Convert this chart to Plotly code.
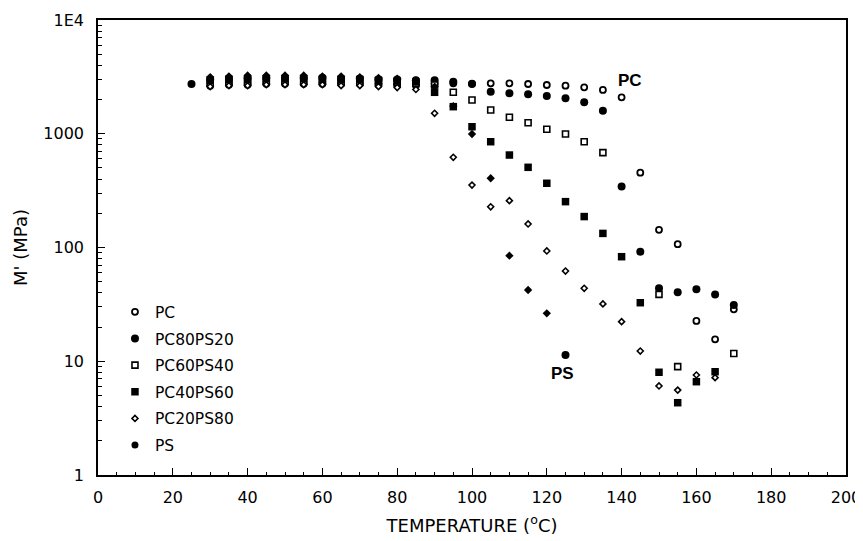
import plotly.graph_objects as go

# ---------------- data ----------------
T_PC = [30, 35, 40, 45, 50, 55, 60, 65, 70, 75, 80, 85, 90, 95, 100, 105, 110, 115,
        120, 125, 130, 135, 140, 145, 150, 155, 160, 165, 170]
M_PC = [2640, 2700, 2700, 2750, 2750, 2750, 2750, 2750, 2750, 2700, 2700, 2700, 2750,
        2780, 2760, 2775, 2775, 2737, 2683, 2648, 2560, 2426, 2091, 455, 143, 107,
        22.6, 15.6, 28.6]

T_PC80PS20 = [25, 30, 35, 40, 45, 50, 55, 60, 65, 70, 75, 80, 85, 90, 95, 100, 105, 110,
              115, 120, 125, 130, 135, 140, 145, 150, 155, 160, 165, 170]
M_PC80PS20 = [2737, 3000, 3050, 3100, 3100, 3100, 3100, 3100, 3050, 3050, 3000, 3000,
              2950, 2950, 2870, 2737, 2340, 2270, 2223, 2148, 2048, 1890, 1595, 343,
              91.8, 43.8, 40.4, 42.9, 38.7, 31.2]

T_PC60PS40 = [30, 35, 40, 45, 50, 55, 60, 65, 70, 75, 80, 85, 90, 95, 100, 105, 110, 115,
              120, 125, 130, 135, 150, 155, 170]
M_PC60PS40 = [2800, 2850, 2850, 2900, 2900, 2900, 2900, 2850, 2850, 2850, 2800, 2750,
              2683, 2314, 1980, 1618, 1396, 1250, 1094, 995, 851, 682, 38.7, 8.96, 11.7]

T_PC40PS60 = [30, 35, 40, 45, 50, 55, 60, 65, 70, 75, 80, 85, 90, 95, 100, 105, 110, 115,
              120, 125, 130, 135, 140, 145, 150, 155, 160, 165]
M_PC40PS60 = [2950, 3000, 3000, 3050, 3050, 3050, 3000, 3000, 3000, 2950, 2900, 2850,
              2314, 1730, 1153, 851, 650, 507, 367, 253, 187, 133, 83, 32.7, 8.0, 4.32,
              6.61, 8.09]

T_PC20PS80 = [30, 35, 40, 45, 50, 55, 60, 65, 70, 75, 80, 85, 90, 95, 100, 105, 110, 115,
              120, 125, 130, 135, 140, 145, 150, 155, 160, 165]
M_PC20PS80 = [2600, 2650, 2650, 2700, 2700, 2700, 2700, 2650, 2650, 2600, 2550, 2450,
              1513, 621, 354, 228, 258, 161, 93.2, 62.1, 43.8, 31.9, 22.3, 12.3, 6.06,
              5.58, 7.57, 7.17]

T_PS = [30, 35, 40, 45, 50, 55, 60, 65, 70, 75, 80, 85, 90, 95, 100, 105, 110, 115, 120, 125]
M_PS = [3150, 3200, 3250, 3250, 3250, 3250, 3200, 3200, 3150, 3100, 3050, 2950, 2600,
        1750, 995, 406, 84.7, 42.3, 26.4, 11.35]

series_names = ["PC", "PC80PS20", "PC60PS40", "PC40PS60", "PC20PS80", "PS"]
x_ticks = [0, 20, 40, 60, 80, 100, 120, 140, 160, 180, 200]
y_ticks = [1, 10, 100, 1000, 10000]
y_tick_labels = ["1", "10", "100", "1000", "1E4"]

# ---------------- styles ----------------
FONT = "DejaVu Sans"
styles = {
    "PC":       dict(symbol="circle", size=6, color="white", opacity=1, line=dict(color="black", width=1.8)),
    "PC80PS20": dict(symbol="circle", size=8, color="black", opacity=1, line=dict(color="black", width=0)),
    "PC60PS40": dict(symbol="square", size=6, color="white", opacity=1, line=dict(color="black", width=1.6)),
    "PC40PS60": dict(symbol="square", size=7.5, color="black", opacity=1, line=dict(color="black", width=0)),
    "PC20PS80": dict(symbol="diamond", size=4.6, color="white", opacity=1, line=dict(color="black", width=1.6)),
    "PS":       dict(symbol="diamond", size=6.4, color="black", opacity=1, line=dict(color="black", width=0)),
}
legend_styles = dict(styles)
legend_styles["PS"] = dict(symbol="circle", size=7, color="black", opacity=1,
                           line=dict(color="black", width=0))

data = {
    "PC": (T_PC, M_PC),
    "PC80PS20": (T_PC80PS20, M_PC80PS20),
    "PC60PS40": (T_PC60PS40, M_PC60PS40),
    "PC40PS60": (T_PC40PS60, M_PC40PS60),
    "PC20PS80": (T_PC20PS80, M_PC20PS80),
    "PS": (T_PS, M_PS),
}

fig = go.Figure()
for name in series_names:
    xs, ys = data[name]
    st = dict(styles[name])
    if name == "PS":
        st["symbol"] = ["diamond"] * (len(xs) - 1) + ["circle"]
        st["size"] = [6.4] * (len(xs) - 1) + [8]
    fig.add_trace(go.Scatter(x=xs, y=ys, mode="markers", name=name, marker=st,
                             showlegend=False, hoverinfo="x+y+name"))

# legend keys
for i, name in enumerate(series_names):
    fig.add_trace(go.Scatter(x=[None], y=[None], mode="markers", name=name,
                             marker=legend_styles[name], legendgroup="g%d" % i,
                             showlegend=True))

minor_y = [m * 10 ** k for k in range(0, 4) for m in range(2, 10)]

axis_common = dict(showline=True, linecolor="black", linewidth=1.6, mirror=True,
                   showgrid=False, zeroline=False, ticks="inside", tickcolor="black",
                   automargin=False,
                   tickfont=dict(family=FONT, size=16, color="black"))

# the page body adds an 8 px offset, so the figure is 8 px smaller on each axis
fig.update_layout(
    template="none",
    width=855, height=533,
    margin=dict(l=90, r=17, t=12, b=66, pad=0),
    paper_bgcolor="white", plot_bgcolor="white",
    font=dict(family=FONT, size=15, color="black"),
    xaxis=dict(range=[0, 200], tickmode="array", tickvals=x_ticks, ticklen=7, tickwidth=1.3,
               minor=dict(dtick=5, ticks="inside", ticklen=3, tickwidth=1.2, tickcolor="black",
                          showgrid=False),
               title=dict(text="TEMPERATURE (<sup>o</sup>C)", standoff=13,
                          font=dict(family=FONT, size=18)),
               ticklabelstandoff=7, **axis_common),
    yaxis=dict(type="log", range=[0, 4], tickmode="array", tickvals=y_ticks,
               ticktext=y_tick_labels, ticklen=7, tickwidth=1.3,
               minor=dict(tickmode="array", tickvals=minor_y, ticks="inside", ticklen=4,
                          tickwidth=1.1, tickcolor="black", showgrid=False),
               title=dict(text="M' (MPa)", standoff=11, font=dict(family=FONT, size=18)),
               ticklabelstandoff=9, **axis_common),
    legend=dict(x=0.0227, y=0.395, xanchor="left", yanchor="top", bgcolor="rgba(0,0,0,0)",
                font=dict(family=FONT, size=15.5, color="black"), tracegroupgap=3.5,
                traceorder="grouped", itemwidth=30, borderwidth=0),
    annotations=[
        dict(x=142.2, y=3.472, xref="x", yref="y", text="<b>PC</b>", showarrow=False,
             font=dict(family="Liberation Sans", size=17, color="black")),
        dict(x=124.3, y=0.894, xref="x", yref="y", text="<b>PS</b>", showarrow=False,
             font=dict(family="Liberation Sans", size=17, color="black")),
    ],
)

fig.write_html("out.html")
